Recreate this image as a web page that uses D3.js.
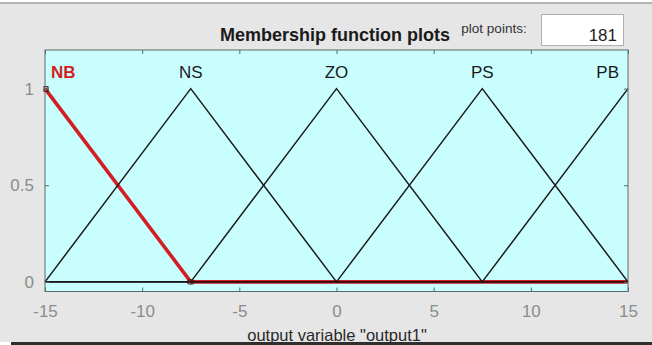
<!DOCTYPE html>
<html>
<head>
<meta charset="utf-8">
<script src="https://cdn.jsdelivr.net/npm/d3@7"></script>
<style>
  html, body { margin: 0; padding: 0; background: #ffffff; }
  svg { display: block; font-family: Arial, "Liberation Sans", sans-serif; }
</style>
</head>
<body>
<svg id="chart" width="652" height="345"></svg>
<script>
// Membership functions of the output variable (triangular: a, b, c)
const mfNames = ["NB", "NS", "ZO", "PS", "PB"];
const mfParams = [
  [-22.5, -15, -7.5],
  [-15, -7.5, 0],
  [-7.5, 0, 7.5],
  [0, 7.5, 15],
  [7.5, 15, 22.5]
];
const selectedMF = 0;
const xRange = [-15, 15];
const xTicks = [-15, -10, -5, 0, 5, 10, 15];
const yTicks = [0, 0.5, 1];
const plotPoints = 181;
const titleText = "Membership function plots";
const xLabelText = 'output variable "output1"';

const svg = d3.select("#chart");
const W = 652, H = 345;
const FONT = 'Arial, "Liberation Sans", sans-serif';

// window panel
svg.append("rect").attr("x", 0).attr("y", 4).attr("width", W).attr("height", 338).attr("fill", "#e6e6e6");
svg.append("rect").attr("x", 0).attr("y", 2).attr("width", W).attr("height", 2).attr("fill", "#b4b4b4");

const margin = { left: 45, right: 628, top: 50, bottom: 291.5 };
const x = d3.scaleLinear().domain(xRange).range([margin.left, margin.right]);
const y = d3.scaleLinear().domain([-0.05, 1.2]).range([margin.bottom, margin.top]);

// axes background
svg.append("rect")
  .attr("x", margin.left).attr("y", margin.top)
  .attr("width", margin.right - margin.left).attr("height", margin.bottom - margin.top)
  .attr("fill", "#c8fefe");

function trimf(v, p) {
  const [a, b, c] = p;
  if (v <= a || v >= c) return (v === b) ? 1 : 0;
  if (v <= b) return (b === a) ? 1 : (v - a) / (b - a);
  return (c === b) ? 1 : (c - v) / (c - b);
}
function samples(p) {
  const xs = [xRange[0], ...p, xRange[1]].filter(v => v >= xRange[0] && v <= xRange[1]);
  return Array.from(new Set(xs)).sort((m, n) => m - n).map(v => [v, trimf(v, p)]);
}
const line = d3.line().x(d => x(d[0])).y(d => y(d[1]));

const plot = svg.append("g");
// selected MF drawn thick red underneath
plot.append("path")
  .attr("d", line(samples(mfParams[selectedMF])))
  .attr("fill", "none").attr("stroke", "#d21e24").attr("stroke-width", 3.6)
  .attr("stroke-linejoin", "round");
mfParams.forEach((p, i) => {
  if (i === selectedMF) return;
  plot.append("path")
    .attr("d", line(samples(p)))
    .attr("fill", "none").attr("stroke", "#1a1a1a").attr("stroke-width", 1.5);
});
// baseline of the selected MF
plot.append("line")
  .attr("x1", x(mfParams[selectedMF][2])).attr("x2", x(xRange[1]))
  .attr("y1", y(0)).attr("y2", y(0))
  .attr("stroke", "#3a0a0a").attr("stroke-width", 1.5);

// vertex handles of the selected MF
mfParams[selectedMF].filter(v => v >= xRange[0] && v <= xRange[1]).forEach(v => {
  const cx = x(v), cy = y(trimf(v, mfParams[selectedMF]));
  const atEdge = v === xRange[0];
  const s = atEdge ? 4 : 7;
  plot.append("rect")
    .attr("x", cx - s / 2 + (atEdge ? 1 : 0)).attr("y", cy - s / 2 + (atEdge ? 0 : 1.5))
    .attr("width", s).attr("height", s * (atEdge ? 1.2 : 0.6)).attr("rx", atEdge ? 0 : 2)
    .attr("fill", "none").attr("stroke", "#3a1010").attr("stroke-width", 1);
});

// MF labels
mfNames.forEach((name, i) => {
  const peak = mfParams[i][1];
  let px = x(peak), anchor = "middle";
  if (peak <= xRange[0]) { px = x(xRange[0]) + 6; anchor = "start"; }
  if (peak >= xRange[1]) { px = x(xRange[1]) - 9; anchor = "end"; }
  svg.append("text")
    .attr("x", px).attr("y", 78)
    .attr("text-anchor", anchor)
    .attr("font-size", 17)
    .attr("font-weight", i === selectedMF ? "bold" : "normal")
    .attr("fill", i === selectedMF ? "#d21e24" : "#1a1a1a")
    .text(name);
});

// axes box and ticks
const axisColor = "#5a6a6a";
svg.append("rect")
  .attr("x", margin.left).attr("y", margin.top)
  .attr("width", margin.right - margin.left).attr("height", margin.bottom - margin.top)
  .attr("fill", "none").attr("stroke", axisColor).attr("stroke-width", 1);

const xAxisB = d3.axisBottom(x).tickValues(xTicks).tickSize(-4).tickPadding(13.5).tickFormat(d => String(d));
const gxb = svg.append("g").attr("transform", `translate(0,${margin.bottom})`).call(xAxisB);
const xAxisT = d3.axisTop(x).tickValues(xTicks).tickSize(-4).tickFormat("");
const gxt = svg.append("g").attr("transform", `translate(0,${margin.top})`).call(xAxisT);
const yAxisL = d3.axisLeft(y).tickValues(yTicks).tickSize(-4).tickPadding(11).tickFormat(d => String(d));
const gyl = svg.append("g").attr("transform", `translate(${margin.left},0)`).call(yAxisL);
const yAxisR = d3.axisRight(y).tickValues(yTicks).tickSize(-4).tickFormat("");
const gyr = svg.append("g").attr("transform", `translate(${margin.right},0)`).call(yAxisR);

[gxb, gxt, gyl, gyr].forEach(g => {
  g.select(".domain").remove();
  g.selectAll(".tick line").attr("stroke", axisColor);
  g.selectAll(".tick text")
    .attr("fill", "#8c8c8c")
    .attr("font-size", 17)
    .attr("font-family", FONT);
});

// title
svg.append("text")
  .attr("x", 335).attr("y", 41)
  .attr("text-anchor", "middle")
  .attr("font-size", 18).attr("font-weight", "bold").attr("fill", "#1a1a1a")
  .text(titleText);

// plot points control
svg.append("text")
  .attr("x", 494).attr("y", 33)
  .attr("text-anchor", "middle")
  .attr("font-size", 13.5).attr("fill", "#333")
  .text("plot points:");
svg.append("rect")
  .attr("x", 541.5).attr("y", 14.5).attr("width", 82).attr("height", 31)
  .attr("fill", "#ffffff").attr("stroke", "#b0b0b0");
svg.append("text")
  .attr("x", 617).attr("y", 41)
  .attr("text-anchor", "end")
  .attr("font-size", 17).attr("fill", "#222")
  .text(plotPoints);

// x label
svg.append("text")
  .attr("x", 337).attr("y", 341)
  .attr("text-anchor", "middle")
  .attr("font-size", 16.5).attr("fill", "#2a2a2a")
  .text(xLabelText);

// panel bottom edge
svg.append("rect").attr("x", 11).attr("y", 342).attr("width", W - 11).attr("height", 3).attr("fill", "#2e2e2e");
</script>
</body>
</html>
